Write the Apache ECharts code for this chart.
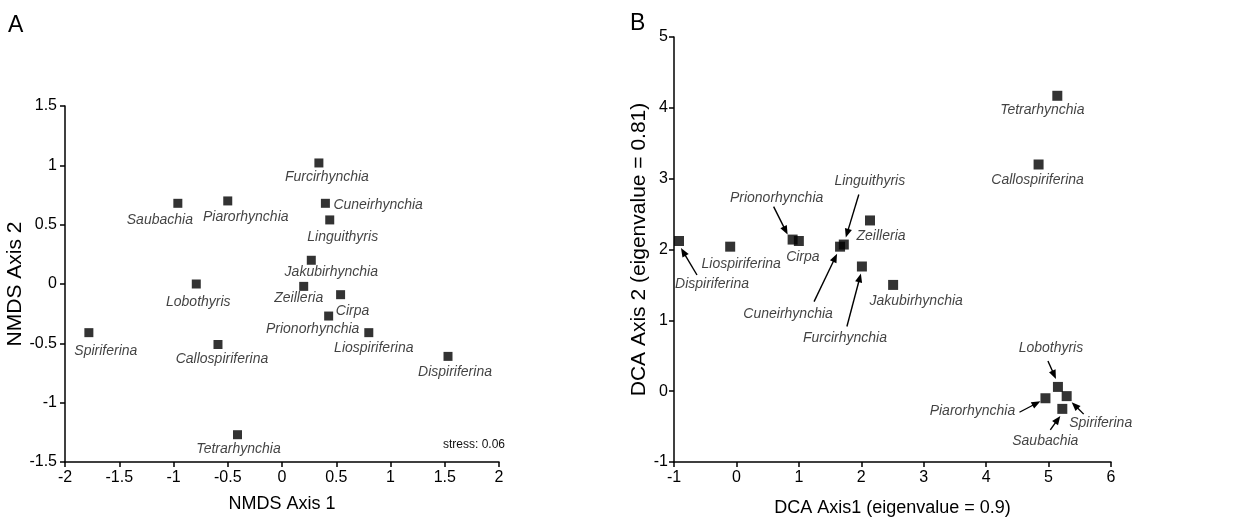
<!DOCTYPE html>
<html>
<head>
<meta charset="utf-8">
<title>NMDS and DCA ordination of brachiopod genera</title>
<script src="https://cdn.jsdelivr.net/npm/echarts@6/dist/echarts.min.js"></script>
<style>
  html, body { margin: 0; padding: 0; background: #fff; }
  #chart { width: 1245px; height: 518px; }
</style>
</head>
<body>
<div id="chart"></div>
<script>
// Genera plotted in both ordinations
const genera = ['Dispiriferina', 'Liospiriferina', 'Prionorhynchia', 'Cirpa', 'Cuneirhynchia',
  'Linguithyris', 'Furcirhynchia', 'Zeilleria', 'Jakubirhynchia', 'Tetrarhynchia',
  'Callospiriferina', 'Lobothyris', 'Piarorhynchia', 'Spiriferina', 'Saubachia'];

// Panel A: NMDS scores
const nmdsAxis1 = [1.53, 0.80, 0.43, 0.54, 0.40, 0.44, 0.34, 0.20, 0.27, -0.41, -0.59, -0.79, -0.50, -1.78, -0.96];
const nmdsAxis2 = [-0.61, -0.41, -0.27, -0.09, 0.68, 0.54, 1.02, -0.02, 0.20, -1.27, -0.51, 0.00, 0.70, -0.41, 0.68];
const nmdsStress = 0.06;

// Panel B: DCA scores
const dcaAxis1 = [-0.92, -0.10, 0.90, 1.00, 1.66, 1.72, 2.01, 2.14, 2.51, 5.14, 4.84, 5.15, 4.95, 5.29, 5.22];
const dcaAxis2 = [2.12, 2.04, 2.14, 2.12, 2.04, 2.07, 1.76, 2.41, 1.50, 4.17, 3.20, 0.06, -0.10, -0.07, -0.25];
const dcaEigen1 = 0.9;
const dcaEigen2 = 0.81;

// Label placement (pixel offsets from the marker centre)
const nmdsLabelPos = {
  Dispiriferina: [7, 16], Liospiriferina: [5, 15], Prionorhynchia: [-16, 13], Cirpa: [12, 16],
  Cuneirhynchia: [8, 2, 'left'], Linguithyris: [13, 17], Furcirhynchia: [8, 14], Zeilleria: [-5, 12],
  Jakubirhynchia: [20, 12], Tetrarhynchia: [1, 14], Callospiriferina: [4, 15], Lobothyris: [2, 18],
  Piarorhynchia: [18, 16], Spiriferina: [17, 18], Saubachia: [-18, 17]
};
const dcaLabelPos = {
  Dispiriferina: [33, 43], Liospiriferina: [11, 17], Prionorhynchia: [-16, -41], Cirpa: [4, 16],
  Cuneirhynchia: [-52, 67], Linguithyris: [26, -63], Furcirhynchia: [-17, 72], Zeilleria: [11, 16],
  Jakubirhynchia: [23, 16], Tetrarhynchia: [-15, 14], Callospiriferina: [-1, 16], Lobothyris: [-7, -39],
  Piarorhynchia: [-73, 13], Spiriferina: [34, 27], Saubachia: [-17, 32]
};
// Leader arrows in panel B: [tailDx, tailDy, headDx, headDy]
const dcaArrows = {
  Dispiriferina: [18, 34, 2, 7], Prionorhynchia: [-19, -33, -5, -5], Cuneirhynchia: [-26, 55, -3, 7],
  Linguithyris: [15, -50, 2, -7], Furcirhynchia: [-15, 60, -1, 7], Lobothyris: [-10, -26, -2, -8],
  Piarorhynchia: [-26, 14, -5, 3], Spiriferina: [17, 18, 5, 6], Saubachia: [-12, 21, -2, 7]
};

const FONT = "'Liberation Sans', Arial, Helvetica, sans-serif";

function pointData(xs, ys, layout) {
  return genera.map((name, i) => {
    const p = layout[name];
    return {
      name: name,
      value: [xs[i], ys[i]],
      label: {
        show: true,
        position: 'inside',
        offset: [p[0], p[1]],
        align: p[2] || 'center',
        verticalAlign: 'middle'
      }
    };
  });
}

const labelStyle = {
  formatter: '{b}',
  fontFamily: FONT,
  fontStyle: 'italic',
  fontSize: 14,
  color: '#111'
};

function axisCommon() {
  return {
    type: 'value',
    axisLine: { show: true, onZero: false, lineStyle: { color: '#000', width: 1.5 } },
    axisTick: { show: true, length: 5, lineStyle: { color: '#000', width: 1.5 } },
    splitLine: { show: false },
    axisLabel: { fontFamily: FONT, fontSize: 16, color: '#000' },
    nameLocation: 'middle',
    nameTextStyle: { fontFamily: FONT, color: '#000' }
  };
}

const arrowData = genera
  .map((name, i) => ({ name: name, value: [dcaAxis1[i], dcaAxis2[i]] }))
  .filter(d => dcaArrows[d.name]);

function renderArrow(params, api) {
  const off = dcaArrows[arrowData[params.dataIndex].name];
  const p = api.coord([api.value(0), api.value(1)]);
  const tx = p[0] + off[0], ty = p[1] + off[1];
  const hx = p[0] + off[2], hy = p[1] + off[3];
  const dx = hx - tx, dy = hy - ty;
  const len = Math.sqrt(dx * dx + dy * dy);
  const ux = dx / len, uy = dy / len;
  const nx = -uy, ny = ux;
  const headLen = 9, headHalf = 3.6;
  const bx = hx - ux * headLen, by = hy - uy * headLen;
  return {
    type: 'group',
    children: [
      {
        type: 'line',
        shape: { x1: tx, y1: ty, x2: bx + ux * 2, y2: by + uy * 2 },
        style: { stroke: '#000', lineWidth: 1.4 }
      },
      {
        type: 'polygon',
        shape: { points: [[hx, hy], [bx + nx * headHalf, by + ny * headHalf], [bx - nx * headHalf, by - ny * headHalf]] },
        style: { fill: '#000' }
      }
    ]
  };
}

const chart = echarts.init(document.getElementById('chart'));

const option = {
  animation: false,
  backgroundColor: '#fff',
  graphic: [
    { type: 'text', left: 8, top: 14, style: { text: 'A', font: '23px ' + FONT, fill: '#000' } },
    { type: 'text', left: 630, top: 12, style: { text: 'B', font: '23px ' + FONT, fill: '#000' } },
    { type: 'text', left: 443, top: 439, style: { text: 'stress: ' + nmdsStress.toFixed(2), font: '12px ' + FONT, fill: '#111' } }
  ],
  grid: [
    { left: 65, top: 106, width: 434, height: 356, outerBoundsMode: 'none' },
    { left: 674, top: 37, width: 437, height: 425, outerBoundsMode: 'none' }
  ],
  xAxis: [
    Object.assign(axisCommon(), {
      gridIndex: 0, min: -2, max: 2, interval: 0.5,
      name: 'NMDS Axis 1', nameGap: 33,
      nameTextStyle: { fontFamily: FONT, fontSize: 18, color: '#000' }
    }),
    Object.assign(axisCommon(), {
      gridIndex: 1, min: -1, max: 6, interval: 1,
      name: 'DCA Axis1 (eigenvalue = ' + dcaEigen1 + ')', nameGap: 37,
      nameTextStyle: { fontFamily: FONT, fontSize: 18, color: '#000' }
    })
  ],
  yAxis: [
    Object.assign(axisCommon(), {
      gridIndex: 0, min: -1.5, max: 1.5, interval: 0.5,
      name: 'NMDS Axis 2', nameGap: 31,
      nameTextStyle: { fontFamily: FONT, fontSize: 21, color: '#000' }
    }),
    Object.assign(axisCommon(), {
      gridIndex: 1, min: -1, max: 5, interval: 1,
      name: 'DCA Axis 2 (eigenvalue = ' + dcaEigen2 + ')', nameGap: 17,
      nameTextStyle: { fontFamily: FONT, fontSize: 21, color: '#000' },
      axisLabel: { fontFamily: FONT, fontSize: 16, color: '#000', margin: 6 }
    })
  ],
  series: [
    {
      type: 'scatter',
      xAxisIndex: 0, yAxisIndex: 0,
      symbol: 'rect', symbolSize: 9,
      itemStyle: { color: '#000' },
      label: labelStyle,
      data: pointData(nmdsAxis1, nmdsAxis2, nmdsLabelPos),
      silent: true
    },
    {
      type: 'custom',
      xAxisIndex: 1, yAxisIndex: 1,
      renderItem: renderArrow,
      data: arrowData,
      silent: true,
      z: 1
    },
    {
      type: 'scatter',
      xAxisIndex: 1, yAxisIndex: 1,
      symbol: 'rect', symbolSize: 10,
      itemStyle: { color: '#000' },
      label: labelStyle,
      data: pointData(dcaAxis1, dcaAxis2, dcaLabelPos),
      silent: true,
      z: 3
    }
  ]
};

chart.setOption(option);
</script>
</body>
</html>
